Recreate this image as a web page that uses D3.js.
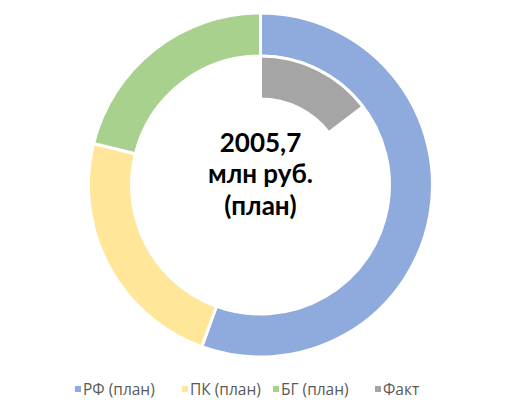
<!DOCTYPE html>
<html><head><meta charset="utf-8">
<script src="https://cdn.jsdelivr.net/npm/d3@7"></script>
<style>body{margin:0;background:#fff}svg{display:block}</style>
</head><body>
<svg id="c" width="525" height="418"></svg>
<script>
const categories = ["РФ (план)", "ПК (план)", "БГ (план)"];
const planValues = [1114.0, 468.2, 423.5];
const factLabel = "Факт";
const factValue = 293.0;
const totalPlan = 2005.7;
const centerLines = ["2005,7", "млн руб.", "(план)"];
const legendLabels = ["РФ (план)", "ПК (план)", "БГ (план)", "Факт"];
const colors = ["#8faadc", "#ffe699", "#a9d18e", "#a5a5a5"];

const svg = d3.select("#c");
const cx = 260.5, cy = 185;
const g = svg.append("g").attr("transform", `translate(${cx},${cy})`);

const pie = d3.pie().sort(null).value(d => d);
const outerArc = d3.arc().innerRadius(129).outerRadius(172);
const innerArc = d3.arc().innerRadius(86).outerRadius(129);

g.selectAll("path.plan").data(pie(planValues)).join("path")
  .attr("class", "plan")
  .attr("d", outerArc)
  .attr("fill", (d, i) => colors[i])
  .attr("stroke", "#fff").attr("stroke-width", 3);

const factData = pie([factValue, totalPlan - factValue]);
g.selectAll("path.fact").data(factData).join("path")
  .attr("class", "fact")
  .attr("d", innerArc)
  .attr("fill", (d, i) => i === 0 ? colors[3] : "none")
  .attr("stroke", (d, i) => i === 0 ? "#fff" : "none").attr("stroke-width", 3);

const baselines = [151.5, 183, 214.5];
g.selectAll("text.center").data(centerLines).join("text")
  .attr("class", "center")
  .attr("x", 0).attr("y", (d, i) => baselines[i] - cy)
  .attr("text-anchor", "middle")
  .attr("font-family", "Lato, sans-serif")
  .attr("font-weight", "bold").attr("font-size", 26)
  .attr("fill", "#000").text(d => d);

const legendX = [75, 182, 273, 375];
const lg = svg.append("g");
legendLabels.forEach((lab, i) => {
  lg.append("rect").attr("x", legendX[i]).attr("y", 386).attr("width", 6).attr("height", 6).attr("fill", colors[i]);
  lg.append("text").attr("x", legendX[i] + 8).attr("y", 395)
    .attr("font-family", "Open Sans, sans-serif").attr("font-size", 15.5)
    .attr("fill", "#595959").text(lab);
});
</script>
</body></html>
